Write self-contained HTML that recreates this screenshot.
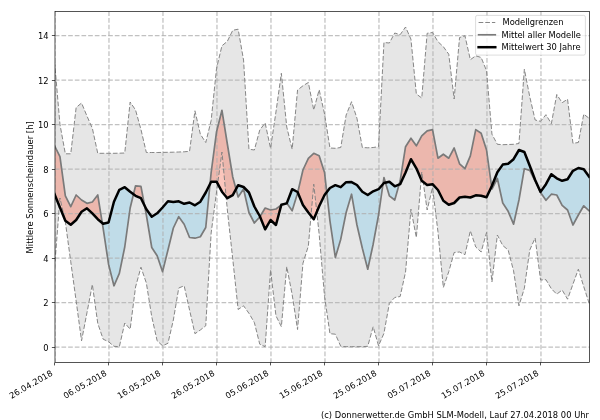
<!DOCTYPE html>
<html lang="de"><head><meta charset="utf-8"><title>Mittlere Sonnenscheindauer</title>
<style>html,body{margin:0;padding:0;background:#fff}body{width:600px;height:420px;overflow:hidden}svg text{fill:#000}</style>
</head><body>
<svg width="600" height="420" viewBox="0 0 600 420" style="display:block;font-family:'DejaVu Sans','Liberation Sans',sans-serif;font-size:8.33px">
<rect width="600" height="420" fill="#fff"/>
<defs><clipPath id="ax"><rect x="54.98" y="11.5" width="534.60" height="351.00"/></clipPath></defs>
<g clip-path="url(#ax)">
<polygon points="54.55,61.70 59.95,124.40 65.35,153.80 70.75,153.80 76.15,107.50 81.55,103.00 86.95,116.00 92.35,128.30 97.75,153.30 103.15,153.30 108.55,153.30 113.95,153.30 119.35,153.20 124.75,153.00 130.15,102.00 135.55,110.00 140.95,129.50 146.35,152.50 151.75,152.50 157.15,152.50 162.55,152.40 167.95,152.30 173.35,152.20 178.75,152.00 184.15,151.80 189.55,151.30 194.95,110.80 200.35,134.20 205.75,142.50 211.15,120.50 216.55,68.30 221.95,45.80 227.35,41.30 232.75,30.30 238.15,29.20 243.55,60.00 248.95,149.20 254.35,150.00 259.75,130.00 265.15,123.00 270.55,148.30 275.95,112.00 281.35,73.30 286.75,127.00 292.15,149.20 297.55,90.00 302.95,85.80 308.35,82.50 313.75,110.00 319.15,89.70 324.55,114.00 329.95,148.00 335.35,148.30 340.75,147.50 346.15,115.00 351.55,101.70 356.95,118.30 362.35,147.50 367.75,147.80 373.15,147.50 378.55,146.70 383.95,42.50 389.35,43.00 394.75,33.00 400.15,34.70 405.55,27.00 410.95,39.20 416.35,94.00 421.75,98.00 427.15,33.30 432.55,32.50 437.95,41.70 443.35,46.70 448.75,54.20 454.15,99.00 459.55,37.50 464.95,35.80 470.35,59.70 475.75,55.80 481.15,57.50 486.55,70.80 491.95,134.20 497.35,144.30 502.75,144.70 508.15,144.50 513.55,144.30 518.95,143.50 524.35,69.20 529.75,96.70 535.15,120.00 540.55,121.30 545.95,114.70 551.35,123.70 556.75,94.50 562.15,102.70 567.55,99.20 572.95,143.30 578.35,142.50 583.75,114.20 589.15,118.30 589.15,303.30 583.75,286.70 578.35,269.20 572.95,284.20 567.55,299.20 562.15,290.00 556.75,294.20 551.35,288.70 545.95,279.70 540.55,280.00 535.15,238.00 529.75,250.00 524.35,288.30 518.95,305.80 513.55,270.80 508.15,250.00 502.75,245.50 497.35,235.00 491.95,282.00 486.55,232.50 481.15,252.00 475.75,247.00 470.35,230.80 464.95,254.70 459.55,252.00 454.15,252.50 448.75,271.70 443.35,287.50 437.95,231.70 432.55,187.50 427.15,210.00 421.75,172.00 416.35,237.50 410.95,209.20 405.55,272.00 400.15,296.50 394.75,297.50 389.35,303.30 383.95,333.30 378.55,345.80 373.15,326.70 367.75,346.30 362.35,346.70 356.95,346.70 351.55,346.70 346.15,346.70 340.75,346.30 335.35,334.20 329.95,333.70 324.55,296.50 319.15,234.00 313.75,184.20 308.35,246.00 302.95,263.30 297.55,329.50 292.15,294.50 286.75,266.70 281.35,326.70 275.95,315.80 270.55,270.00 265.15,346.70 259.75,344.20 254.35,322.50 248.95,313.30 243.55,305.80 238.15,309.50 232.75,259.00 227.35,210.00 221.95,152.00 216.55,192.00 211.15,233.00 205.75,325.80 200.35,330.00 194.95,333.70 189.55,310.00 184.15,285.80 178.75,288.00 173.35,320.00 167.95,343.30 162.55,345.80 157.15,340.80 151.75,316.70 146.35,283.00 140.95,267.20 135.55,287.00 130.15,329.20 124.75,323.00 119.35,346.70 113.95,346.30 108.55,341.70 103.15,339.20 97.75,323.30 92.35,284.50 86.95,312.80 81.55,340.80 76.15,301.00 70.75,261.70 65.35,222.00 59.95,198.00 54.55,268.00" fill="#808080" fill-opacity="0.2"/>
<polygon points="54.55,145.80 59.95,156.70 65.35,195.80 70.75,206.70 76.15,195.00 81.55,200.00 86.95,203.30 92.35,202.00 97.75,195.00 102.30,223.08 102.30,223.08 97.75,219.20 92.35,213.30 86.95,208.30 81.55,211.70 76.15,220.00 70.75,224.70 65.35,220.80 59.95,207.50 54.55,194.20" fill="#f67158" fill-opacity="0.4"/><polygon points="133.50,194.24 135.55,185.80 140.95,186.30 144.58,205.60 144.58,205.60 140.95,198.20 135.55,195.80 133.50,194.24" fill="#f67158" fill-opacity="0.4"/><polygon points="210.03,183.95 211.15,172.50 216.55,131.70 221.95,110.30 227.35,144.00 232.75,177.00 236.03,189.13 236.03,189.13 232.75,195.20 227.35,198.20 221.95,191.70 216.55,181.70 211.15,181.70 210.03,183.95" fill="#f67158" fill-opacity="0.4"/><polygon points="259.99,216.60 265.15,208.00 270.55,210.00 275.95,209.00 281.28,205.05 281.28,205.05 275.95,225.00 270.55,220.00 265.15,229.40 259.99,216.60" fill="#f67158" fill-opacity="0.4"/><polygon points="283.15,204.33 286.75,203.00 286.85,203.14 286.85,203.14 286.75,203.40 283.15,204.33" fill="#f67158" fill-opacity="0.4"/><polygon points="297.74,192.47 302.95,170.00 308.35,158.30 313.75,153.30 319.15,155.80 324.55,172.50 326.75,192.15 326.75,192.15 324.55,195.00 319.15,206.30 313.75,219.20 308.35,212.50 302.95,205.00 297.74,192.47" fill="#f67158" fill-opacity="0.4"/><polygon points="383.00,184.09 383.95,177.50 385.47,182.64 385.47,182.64 383.95,183.00 383.00,184.09" fill="#f67158" fill-opacity="0.4"/><polygon points="399.08,184.62 400.15,180.80 405.55,146.70 410.95,138.20 416.35,145.80 421.75,135.80 427.15,130.80 432.55,129.70 437.95,158.20 443.35,154.20 448.75,158.20 454.15,148.00 459.55,163.80 464.95,168.70 470.35,155.80 475.75,129.60 481.15,133.30 486.55,150.00 491.60,186.46 491.60,186.46 486.55,197.30 481.15,195.80 475.75,195.30 470.35,197.50 464.95,196.70 459.55,197.50 454.15,203.00 448.75,204.70 443.35,200.80 437.95,190.00 432.55,184.20 427.15,185.00 421.75,180.80 416.35,168.30 410.95,159.20 405.55,172.50 400.15,184.20 399.08,184.62" fill="#f67158" fill-opacity="0.4"/><polygon points="102.30,223.08 103.15,228.30 108.55,264.20 113.95,285.80 119.35,273.30 124.75,247.00 130.15,208.00 133.50,194.24 133.50,194.24 130.15,191.70 124.75,187.20 119.35,189.80 113.95,201.70 108.55,222.50 103.15,223.80 102.30,223.08" fill="#87ceeb" fill-opacity="0.4"/><polygon points="144.58,205.60 146.35,215.00 151.75,247.50 157.15,255.80 162.55,271.70 167.95,250.00 173.35,228.00 178.75,216.70 184.15,224.20 189.55,237.50 194.95,238.20 200.35,236.70 205.75,227.50 210.03,183.95 210.03,183.95 205.75,192.50 200.35,201.70 194.95,205.30 189.55,202.50 184.15,203.80 178.75,201.30 173.35,202.00 167.95,201.30 162.55,207.50 157.15,213.30 151.75,216.70 146.35,209.20 144.58,205.60" fill="#87ceeb" fill-opacity="0.4"/><polygon points="236.03,189.13 238.15,197.00 243.55,189.00 248.95,212.50 254.35,223.00 259.75,217.00 259.99,216.60 259.99,216.60 259.75,216.00 254.35,206.50 248.95,192.50 243.55,187.00 238.15,185.20 236.03,189.13" fill="#87ceeb" fill-opacity="0.4"/><polygon points="281.28,205.05 281.35,205.00 283.15,204.33 283.15,204.33 281.35,204.80 281.28,205.05" fill="#87ceeb" fill-opacity="0.4"/><polygon points="286.85,203.14 292.15,210.80 297.55,193.30 297.74,192.47 297.74,192.47 297.55,192.00 292.15,189.20 286.85,203.14" fill="#87ceeb" fill-opacity="0.4"/><polygon points="326.75,192.15 329.95,220.80 335.35,257.50 340.75,239.20 346.15,212.50 351.55,194.20 356.95,225.00 362.35,248.30 367.75,269.20 373.15,244.20 378.55,215.00 383.00,184.09 383.00,184.09 378.55,189.20 373.15,191.30 367.75,195.00 362.35,191.70 356.95,185.00 351.55,182.10 346.15,182.20 340.75,187.20 335.35,185.20 329.95,188.00 326.75,192.15" fill="#87ceeb" fill-opacity="0.4"/><polygon points="385.47,182.64 389.35,195.80 394.75,200.00 399.08,184.62 399.08,184.62 394.75,186.30 389.35,181.70 385.47,182.64" fill="#87ceeb" fill-opacity="0.4"/><polygon points="491.60,186.46 491.95,189.00 497.35,178.50 502.75,203.00 508.15,211.30 513.55,224.20 518.95,200.00 524.35,168.70 529.75,170.40 535.15,181.00 540.55,192.50 545.95,200.30 551.35,194.20 556.75,195.00 562.15,205.30 567.55,210.00 572.95,225.00 578.35,215.00 583.75,205.80 589.15,210.80 589.15,176.70 583.75,169.20 578.35,168.00 572.95,170.80 567.55,179.20 562.15,180.80 556.75,178.30 551.35,174.20 545.95,184.20 540.55,191.90 535.15,180.00 529.75,165.80 524.35,152.00 518.95,150.00 513.55,159.20 508.15,163.70 502.75,164.60 497.35,172.30 491.95,185.70 491.60,186.46" fill="#87ceeb" fill-opacity="0.4"/>
<path d="M54.98 362.5V11.5M108.98 362.5V11.5M162.98 362.5V11.5M216.98 362.5V11.5M270.98 362.5V11.5M324.98 362.5V11.5M378.98 362.5V11.5M432.98 362.5V11.5M486.98 362.5V11.5M540.98 362.5V11.5" fill="none" stroke="#b0b0b0" stroke-width="1.25" stroke-dasharray="4.67 2.0" stroke-opacity="0.78" stroke-dashoffset="0.3"/><path d="M54.8 347.00H590.15M54.8 302.50H590.15M54.8 258.00H590.15M54.8 213.50H590.15M54.8 169.00H590.15M54.8 124.50H590.15M54.8 80.00H590.15M54.8 35.50H590.15" fill="none" stroke="#b0b0b0" stroke-width="1.25" stroke-dasharray="4.67 2.0" stroke-opacity="0.78" stroke-dashoffset="0"/>
<polyline points="54.55,61.70 59.95,124.40 65.35,153.80 70.75,153.80 76.15,107.50 81.55,103.00 86.95,116.00 92.35,128.30 97.75,153.30 103.15,153.30 108.55,153.30 113.95,153.30 119.35,153.20 124.75,153.00 130.15,102.00 135.55,110.00 140.95,129.50 146.35,152.50 151.75,152.50 157.15,152.50 162.55,152.40 167.95,152.30 173.35,152.20 178.75,152.00 184.15,151.80 189.55,151.30 194.95,110.80 200.35,134.20 205.75,142.50 211.15,120.50 216.55,68.30 221.95,45.80 227.35,41.30 232.75,30.30 238.15,29.20 243.55,60.00 248.95,149.20 254.35,150.00 259.75,130.00 265.15,123.00 270.55,148.30 275.95,112.00 281.35,73.30 286.75,127.00 292.15,149.20 297.55,90.00 302.95,85.80 308.35,82.50 313.75,110.00 319.15,89.70 324.55,114.00 329.95,148.00 335.35,148.30 340.75,147.50 346.15,115.00 351.55,101.70 356.95,118.30 362.35,147.50 367.75,147.80 373.15,147.50 378.55,146.70 383.95,42.50 389.35,43.00 394.75,33.00 400.15,34.70 405.55,27.00 410.95,39.20 416.35,94.00 421.75,98.00 427.15,33.30 432.55,32.50 437.95,41.70 443.35,46.70 448.75,54.20 454.15,99.00 459.55,37.50 464.95,35.80 470.35,59.70 475.75,55.80 481.15,57.50 486.55,70.80 491.95,134.20 497.35,144.30 502.75,144.70 508.15,144.50 513.55,144.30 518.95,143.50 524.35,69.20 529.75,96.70 535.15,120.00 540.55,121.30 545.95,114.70 551.35,123.70 556.75,94.50 562.15,102.70 567.55,99.20 572.95,143.30 578.35,142.50 583.75,114.20 589.15,118.30" fill="none" stroke="#808080" stroke-width="0.95" stroke-dasharray="4.67 2.0" stroke-linejoin="round"/><polyline points="54.55,268.00 59.95,198.00 65.35,222.00 70.75,261.70 76.15,301.00 81.55,340.80 86.95,312.80 92.35,284.50 97.75,323.30 103.15,339.20 108.55,341.70 113.95,346.30 119.35,346.70 124.75,323.00 130.15,329.20 135.55,287.00 140.95,267.20 146.35,283.00 151.75,316.70 157.15,340.80 162.55,345.80 167.95,343.30 173.35,320.00 178.75,288.00 184.15,285.80 189.55,310.00 194.95,333.70 200.35,330.00 205.75,325.80 211.15,233.00 216.55,192.00 221.95,152.00 227.35,210.00 232.75,259.00 238.15,309.50 243.55,305.80 248.95,313.30 254.35,322.50 259.75,344.20 265.15,346.70 270.55,270.00 275.95,315.80 281.35,326.70 286.75,266.70 292.15,294.50 297.55,329.50 302.95,263.30 308.35,246.00 313.75,184.20 319.15,234.00 324.55,296.50 329.95,333.70 335.35,334.20 340.75,346.30 346.15,346.70 351.55,346.70 356.95,346.70 362.35,346.70 367.75,346.30 373.15,326.70 378.55,345.80 383.95,333.30 389.35,303.30 394.75,297.50 400.15,296.50 405.55,272.00 410.95,209.20 416.35,237.50 421.75,172.00 427.15,210.00 432.55,187.50 437.95,231.70 443.35,287.50 448.75,271.70 454.15,252.50 459.55,252.00 464.95,254.70 470.35,230.80 475.75,247.00 481.15,252.00 486.55,232.50 491.95,282.00 497.35,235.00 502.75,245.50 508.15,250.00 513.55,270.80 518.95,305.80 524.35,288.30 529.75,250.00 535.15,238.00 540.55,280.00 545.95,279.70 551.35,288.70 556.75,294.20 562.15,290.00 567.55,299.20 572.95,284.20 578.35,269.20 583.75,286.70 589.15,303.30" fill="none" stroke="#808080" stroke-width="0.95" stroke-dasharray="4.67 2.0" stroke-linejoin="round"/>
<polyline points="54.55,145.80 59.95,156.70 65.35,195.80 70.75,206.70 76.15,195.00 81.55,200.00 86.95,203.30 92.35,202.00 97.75,195.00 103.15,228.30 108.55,264.20 113.95,285.80 119.35,273.30 124.75,247.00 130.15,208.00 135.55,185.80 140.95,186.30 146.35,215.00 151.75,247.50 157.15,255.80 162.55,271.70 167.95,250.00 173.35,228.00 178.75,216.70 184.15,224.20 189.55,237.50 194.95,238.20 200.35,236.70 205.75,227.50 211.15,172.50 216.55,131.70 221.95,110.30 227.35,144.00 232.75,177.00 238.15,197.00 243.55,189.00 248.95,212.50 254.35,223.00 259.75,217.00 265.15,208.00 270.55,210.00 275.95,209.00 281.35,205.00 286.75,203.00 292.15,210.80 297.55,193.30 302.95,170.00 308.35,158.30 313.75,153.30 319.15,155.80 324.55,172.50 329.95,220.80 335.35,257.50 340.75,239.20 346.15,212.50 351.55,194.20 356.95,225.00 362.35,248.30 367.75,269.20 373.15,244.20 378.55,215.00 383.95,177.50 389.35,195.80 394.75,200.00 400.15,180.80 405.55,146.70 410.95,138.20 416.35,145.80 421.75,135.80 427.15,130.80 432.55,129.70 437.95,158.20 443.35,154.20 448.75,158.20 454.15,148.00 459.55,163.80 464.95,168.70 470.35,155.80 475.75,129.60 481.15,133.30 486.55,150.00 491.95,189.00 497.35,178.50 502.75,203.00 508.15,211.30 513.55,224.20 518.95,200.00 524.35,168.70 529.75,170.40 535.15,181.00 540.55,192.50 545.95,200.30 551.35,194.20 556.75,195.00 562.15,205.30 567.55,210.00 572.95,225.00 578.35,215.00 583.75,205.80 589.15,210.80" fill="none" stroke="#7a7a7a" stroke-width="1.7" stroke-linejoin="round" stroke-linecap="square"/>
<polyline points="54.55,194.20 59.95,207.50 65.35,220.80 70.75,224.70 76.15,220.00 81.55,211.70 86.95,208.30 92.35,213.30 97.75,219.20 103.15,223.80 108.55,222.50 113.95,201.70 119.35,189.80 124.75,187.20 130.15,191.70 135.55,195.80 140.95,198.20 146.35,209.20 151.75,216.70 157.15,213.30 162.55,207.50 167.95,201.30 173.35,202.00 178.75,201.30 184.15,203.80 189.55,202.50 194.95,205.30 200.35,201.70 205.75,192.50 211.15,181.70 216.55,181.70 221.95,191.70 227.35,198.20 232.75,195.20 238.15,185.20 243.55,187.00 248.95,192.50 254.35,206.50 259.75,216.00 265.15,229.40 270.55,220.00 275.95,225.00 281.35,204.80 286.75,203.40 292.15,189.20 297.55,192.00 302.95,205.00 308.35,212.50 313.75,219.20 319.15,206.30 324.55,195.00 329.95,188.00 335.35,185.20 340.75,187.20 346.15,182.20 351.55,182.10 356.95,185.00 362.35,191.70 367.75,195.00 373.15,191.30 378.55,189.20 383.95,183.00 389.35,181.70 394.75,186.30 400.15,184.20 405.55,172.50 410.95,159.20 416.35,168.30 421.75,180.80 427.15,185.00 432.55,184.20 437.95,190.00 443.35,200.80 448.75,204.70 454.15,203.00 459.55,197.50 464.95,196.70 470.35,197.50 475.75,195.30 481.15,195.80 486.55,197.30 491.95,185.70 497.35,172.30 502.75,164.60 508.15,163.70 513.55,159.20 518.95,150.00 524.35,152.00 529.75,165.80 535.15,180.00 540.55,191.90 545.95,184.20 551.35,174.20 556.75,178.30 562.15,180.80 567.55,179.20 572.95,170.80 578.35,168.00 583.75,169.20 589.15,176.70" fill="none" stroke="#000" stroke-width="2.5" stroke-linejoin="round" stroke-linecap="square"/>
</g>
<rect x="54.98" y="11.5" width="534.6" height="351.0" fill="none" stroke="#000" stroke-width="0.67"/>
<path d="M54.5 362.5v2.92M108.5 362.5v2.92M162.5 362.5v2.92M216.5 362.5v2.92M270.5 362.5v2.92M324.5 362.5v2.92M378.5 362.5v2.92M432.5 362.5v2.92M486.5 362.5v2.92M540.5 362.5v2.92M54.98 347.5h-3.1M54.98 302.5h-3.1M54.98 258.5h-3.1M54.98 213.5h-3.1M54.98 169.5h-3.1M54.98 124.5h-3.1M54.98 80.5h-3.1M54.98 35.5h-3.1" fill="none" stroke="#000" stroke-width="0.67"/>
<text x="48.67" y="350.70" text-anchor="end">0</text>
<text x="48.67" y="306.20" text-anchor="end">2</text>
<text x="48.67" y="261.70" text-anchor="end">4</text>
<text x="48.67" y="217.20" text-anchor="end">6</text>
<text x="48.67" y="172.70" text-anchor="end">8</text>
<text x="48.67" y="128.20" text-anchor="end">10</text>
<text x="48.67" y="83.70" text-anchor="end">12</text>
<text x="48.67" y="39.20" text-anchor="end">14</text>
<text transform="translate(53.28,374.80) rotate(-30)" text-anchor="end" textLength="48.3">26.04.2018</text>
<text transform="translate(107.28,374.80) rotate(-30)" text-anchor="end" textLength="48.3">06.05.2018</text>
<text transform="translate(161.28,374.80) rotate(-30)" text-anchor="end" textLength="48.3">16.05.2018</text>
<text transform="translate(215.28,374.80) rotate(-30)" text-anchor="end" textLength="48.3">26.05.2018</text>
<text transform="translate(269.28,374.80) rotate(-30)" text-anchor="end" textLength="48.3">05.06.2018</text>
<text transform="translate(323.28,374.80) rotate(-30)" text-anchor="end" textLength="48.3">15.06.2018</text>
<text transform="translate(377.28,374.80) rotate(-30)" text-anchor="end" textLength="48.3">25.06.2018</text>
<text transform="translate(431.28,374.80) rotate(-30)" text-anchor="end" textLength="48.3">05.07.2018</text>
<text transform="translate(485.28,374.80) rotate(-30)" text-anchor="end" textLength="48.3">15.07.2018</text>
<text transform="translate(539.28,374.80) rotate(-30)" text-anchor="end" textLength="48.3">25.07.2018</text>
<text transform="translate(32.8,187.35) rotate(-90)" text-anchor="middle" textLength="132.1">Mittlere Sonnenscheindauer [h]</text>
<text x="589.0" y="417.9" text-anchor="end" textLength="268">(c) Donnerwetter.de GmbH SLM-Modell, Lauf 27.04.2018 00 Uhr</text>
<rect x="475.6" y="15.4" width="109.80" height="39.70" rx="1.67" fill="#fff" fill-opacity="0.8" stroke="#ccc" stroke-opacity="0.8" stroke-width="0.83"/>
<path d="M478.60 22.5H495.27" stroke="#808080" stroke-width="0.95" stroke-dasharray="4.67 2.0" fill="none"/>
<path d="M478.60 34.8H495.27" stroke="#7a7a7a" stroke-width="1.7" stroke-linecap="square" fill="none"/>
<path d="M478.60 47.2H495.27" stroke="#000" stroke-width="2.5" stroke-linecap="square" fill="none"/>
<text x="502.47" y="24.90">Modellgrenzen</text>
<text x="501.47" y="37.70">Mittel aller Modelle</text>
<text x="501.47" y="50.10">Mittelwert 30 Jahre</text>
</svg>
</body></html>
